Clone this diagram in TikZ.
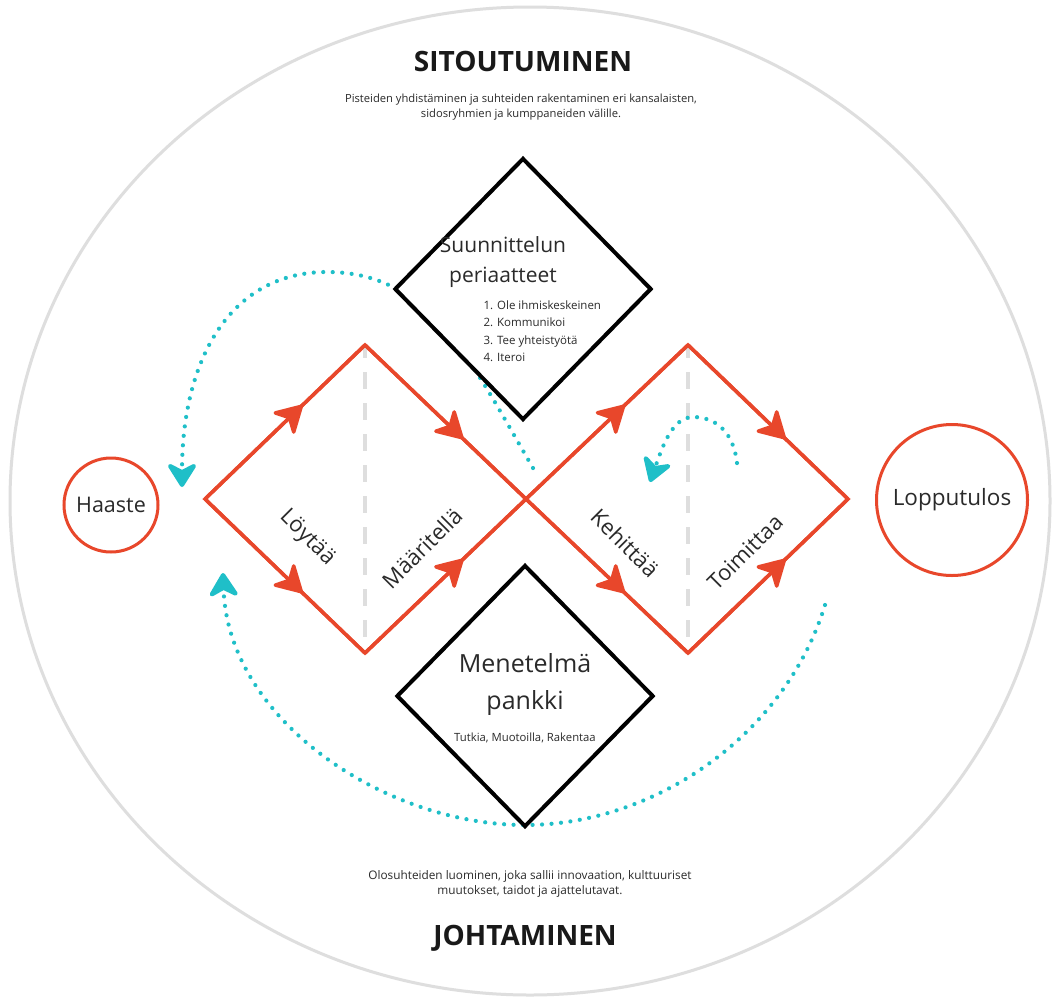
\documentclass[tikz,border=0pt]{standalone}
\usepackage{fontspec}
\setmainfont{Open Sans}
\usetikzlibrary{arrows.meta,decorations.markings,shapes.geometric}

\definecolor{flow}{HTML}{E8472B}
\definecolor{loop}{HTML}{1FBFC8}
\definecolor{rim}{HTML}{DEDEDE}
\definecolor{ink}{HTML}{2A2A2A}

\begin{document}
\begin{tikzpicture}[x=1pt,y=-1pt,
  outline/.style={draw=flow, line width=3.5pt, line join=miter},
  phase/.style={draw=flow, line width=3.5pt, postaction={decorate},
    decoration={markings, mark=at position 0.61 with
      {\arrow[color=flow]{Stealth[length=31pt,width=35pt,inset=9pt,round]}}}},
  divider/.style={draw=rim, line width=4pt, dash pattern=on 17pt off 14pt, dash phase=4pt},
  feedback/.style={draw=loop, line width=4.2pt, line cap=round,
    dash pattern=on 0pt off 9.5pt,
    -{Stealth[length=28pt,width=35pt,inset=9pt,round,fill=loop]}},
  hub/.style={diamond, draw=black, fill=white, line width=4pt, inner sep=0pt,
    aspect=1},
  endpoint/.style={circle, draw=flow, line width=3pt, inner sep=0pt, text=ink},
  title/.style={text=black!90, font=\bfseries\fontsize{28pt}{32pt}\selectfont},
  caption/.style={text=ink, align=center},
  stage/.style={text=ink, font=\fontsize{22pt}{26pt}\selectfont}]

% canvas and outer ring
\fill[white] (0,0) rectangle (1052,999);
\useasboundingbox (0,0) rectangle (1052,999);
\draw[rim, line width=3pt] (530,501) ellipse [x radius=520pt, y radius=494pt];

% corners of the two process diamonds
\coordinate (dl) at (205,499);
\coordinate (dt) at (365,345);
\coordinate (mid) at (526,499);
\coordinate (db) at (365,653);
\coordinate (ct) at (688,345);
\coordinate (cr) at (848,499);
\coordinate (cb) at (688,653);

% dashed centre lines
\draw[divider] (dt) -- (db);
\draw[divider] (ct) -- (cb);

% diamond outlines
\draw[outline] (dl) -- (dt) -- (mid) -- (db) -- cycle;
\draw[outline] (mid) -- (ct) -- (cr) -- (cb) -- cycle;

% direction of travel along each edge
\draw[phase] (dl) -- (dt);
\draw[phase] (dt) -- (mid);
\draw[phase] (dl) -- (db);
\draw[phase] (db) -- (mid);
\draw[phase] (mid) -- (ct);
\draw[phase] (ct) -- (cr);
\draw[phase] (mid) -- (cb);
\draw[phase] (cb) -- (cr);

% feedback loops
\coordinate (fa) at (533,468);
\coordinate (fb) at (182,487);
\draw[feedback] (fa) .. controls (470,360) and (430,272) .. (327,272)
  .. controls (230,272) and (182,360) .. (fb);
\coordinate (ga) at (825,605);
\coordinate (gb) at (223,573);
\draw[feedback] (ga) .. controls (785,735) and (655,825) .. (525,825)
  .. controls (385,825) and (228,720) .. (gb);
\coordinate (ha) at (737,463);
\coordinate (hb) at (650,482);
\draw[feedback] (ha) .. controls (733,428) and (712,417) .. (693,417)
  .. controls (672,417) and (662,448) .. (hb);

% principles and methods
\node[hub, minimum width=257pt, minimum height=262pt] (plan) at (523,289) {};
\node[hub, minimum width=257pt, minimum height=262pt] (bank) at (525,696) {};

\node[text=ink, align=center, font=\fontsize{21pt}{30pt}\selectfont] (plantitle)
  at (503,262) {Suunnittelun\\periaatteet};
\node[text=ink, align=left, anchor=west, font=\fontsize{11.5pt}{17.5pt}\selectfont] (planlist)
  at (480,331) {1. Ole ihmiskeskeinen\\2. Kommunikoi\\3. Tee yhteistyötä\\4. Iteroi};

\node[text=ink, align=center, font=\fontsize{25pt}{37pt}\selectfont] (banktitle)
  at (525,684) {Menetelmä\\pankki};
\node[text=ink, font=\fontsize{11.3pt}{14pt}\selectfont] (banklist)
  at (525,738) {Tutkia, Muotoilla, Rakentaa};

% phase labels
\node[stage, rotate=-45] (find) at (307,538) {Löytää};
\node[stage, rotate=45] (define) at (422,548) {Määritellä};
\node[stage, rotate=-45] (develop) at (625,543) {Kehittää};
\node[stage, rotate=45] (deliver) at (745,552) {Toimittaa};

% start and end
\node[endpoint, minimum size=94pt, font=\fontsize{21.5pt}{26pt}\selectfont] (challenge)
  at (111,505) {Haaste};
\node[endpoint, minimum size=151pt, font=\fontsize{22.5pt}{26pt}\selectfont] (outcome)
  at (952,500) {Lopputulos};

% headings and descriptions
\node[title] (engage) at (523,61) {SITOUTUMINEN};
\node[caption, font=\fontsize{11.2pt}{15pt}\selectfont] (engagetext) at (521,107)
  {Pisteiden yhdistäminen ja suhteiden rakentaminen eri kansalaisten,\\
   sidosryhmien ja kumppaneiden välille.};
\node[caption, font=\fontsize{11.8pt}{14.5pt}\selectfont] (leadtext) at (530,884)
  {Olosuhteiden luominen, joka sallii innovaation, kulttuuriset\\
   muutokset, taidot ja ajattelutavat.};
\node[title] (lead) at (525,938) {JOHTAMINEN};
\end{tikzpicture}
\end{document}
